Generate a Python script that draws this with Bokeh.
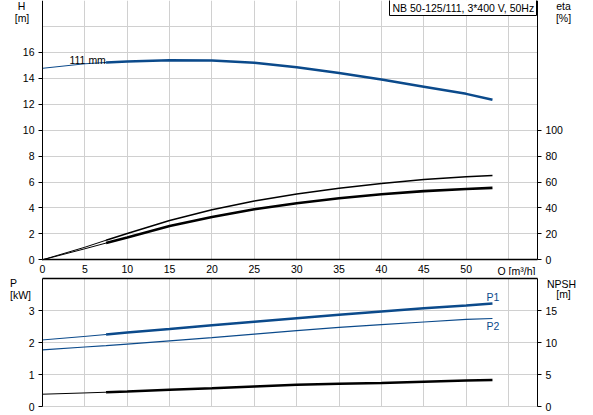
from bokeh.plotting import figure
from bokeh.models import Range1d, LinearAxis, FixedTicker, Label, Grid
from bokeh.layouts import column
from bokeh.embed import file_html
from bokeh.resources import INLINE

# ---------------- data ----------------
q        = [0, 5, 7.5, 10, 15, 20, 25, 30, 35, 40, 45, 50, 53.1]
head     = [14.77, 15.12, 15.22, 15.30, 15.40, 15.37, 15.20, 14.85, 14.40, 13.90, 13.35, 12.80, 12.35]
eta_pump = [0, 9.7, 15.1, 20.3, 30.3, 38.6, 45.3, 50.8, 55.2, 58.8, 61.9, 64.0, 65.0]
eta_tot  = [0, 8.5, 12.9, 17.2, 26.0, 33.0, 39.0, 43.6, 47.5, 50.6, 53.0, 54.6, 55.5]
p1       = [2.08, 2.19, 2.25, 2.31, 2.42, 2.54, 2.65, 2.76, 2.87, 2.97, 3.07, 3.16, 3.22]
p2       = [1.77, 1.86, 1.90, 1.95, 2.05, 2.15, 2.26, 2.37, 2.47, 2.56, 2.64, 2.72, 2.75]
npsh     = [1.92, 2.12, 2.23, 2.34, 2.60, 2.85, 3.12, 3.38, 3.54, 3.69, 3.87, 4.05, 4.15]
split    = 2  # operating range (thick line) starts at q[2]

title_text = "NB 50-125/111, 3*400 V, 50Hz"
curve_text = "111 mm"
q_ticks    = [0, 5, 10, 15, 20, 25, 30, 35, 40, 45, 50]
q_grid     = [5, 10, 15, 20, 25, 30, 35, 40, 45, 50, 55]
h_ticks    = [0, 2, 4, 6, 8, 10, 12, 14, 16]
h_grid     = [2, 4, 6, 8, 10, 12, 14, 16, 18, 20]
eta_ticks  = [0, 20, 40, 60, 80, 100]
p_ticks    = [0, 1, 2, 3]
p_grid     = [0, 1, 2, 3]
npsh_ticks = [0, 5, 10, 15]

Q_MAX, H_MAX, ETA_MAX, P_MAX, NPSH_MAX = 58.4, 20, 200, 4, 20

FONT = "Liberation Sans"
FS = "10.5px"
BLUE = "#0b4a8b"
GRIDC = "#d0d0d0"
W = 585
HAS_CROSS = "cross_bounds" in Grid.properties()


def style_axis(ax, tick_out=4, standoff=4):
    ax.major_tick_out = tick_out
    ax.major_tick_in = 0
    ax.minor_tick_out = 0
    ax.minor_tick_in = 0
    ax.major_label_standoff = standoff
    ax.major_label_text_font = FONT
    ax.major_label_text_font_size = FS
    ax.major_label_text_color = "black"
    ax.axis_line_color = "black"
    ax.major_tick_line_color = "black"


def lab(p, x, y, text, align="center", color="black", y_range_name="default"):
    p.add_layout(Label(x=x, y=y, text=text, text_align=align, text_baseline="middle",
                       text_font=FONT, text_font_size=FS, text_color=color,
                       y_range_name=y_range_name))


def grids(p, xticks, yticks, ytop):
    gx = Grid(dimension=0, ticker=FixedTicker(ticks=xticks), grid_line_color=GRIDC, grid_line_width=1)
    gy = Grid(dimension=1, ticker=FixedTicker(ticks=yticks), grid_line_color=GRIDC, grid_line_width=1)
    if HAS_CROSS:
        gx.cross_bounds = (0, ytop)
        gy.cross_bounds = (0, Q_MAX)
    p.add_layout(gx, "center")
    p.add_layout(gy, "center")


# pixel mapping (frame covers whole canvas)
PX_Q = 8.474          # px per m3/h, Q=0 at x=42
X0 = 42
x_range = Range1d(-X0 / PX_Q, (W - X0) / PX_Q)

# ---------------- top figure: H and eta ----------------
TH = 275
PX_H = 12.965         # px per m, H=0 at y=259.3
HY0 = 259.3
top = figure(width=W, height=TH, x_range=x_range,
             y_range=Range1d(-(TH - HY0) / PX_H, HY0 / PX_H),
             output_backend="svg", toolbar_location=None,
             x_axis_location=None, y_axis_location=None,
             min_border=0, min_border_left=0, min_border_right=0,
             min_border_top=0, min_border_bottom=0)
top.extra_y_ranges = {"eta": Range1d(-(TH - HY0) / PX_H * 10, HY0 / PX_H * 10)}
top.outline_line_color = None
top.grid.visible = False
grids(top, q_grid, h_grid, H_MAX)

xb = LinearAxis(ticker=FixedTicker(ticks=q_ticks), fixed_location=0, bounds=(0, Q_MAX))
style_axis(xb, tick_out=0, standoff=5)
xb.axis_line_width = 1.5
top.add_layout(xb, "below")
yl = LinearAxis(ticker=FixedTicker(ticks=h_ticks), fixed_location=0, bounds=(0, H_MAX))
style_axis(yl)
top.add_layout(yl, "left")
yr = LinearAxis(y_range_name="eta", ticker=FixedTicker(ticks=eta_ticks),
                fixed_location=Q_MAX, bounds=(0, ETA_MAX))
style_axis(yr)
top.add_layout(yr, "right")

if not HAS_CROSS:
    for l, r in ((-10, 0), (Q_MAX, 80)):
        top.quad(left=[l], right=[r], bottom=[-5], top=[25], fill_color="white", line_color=None)
    top.quad(left=[-10], right=[80], bottom=[-5], top=[0], fill_color="white", line_color=None)

# curves
top.line(q[:split + 1], head[:split + 1], line_color=BLUE, line_width=1)
top.line(q[split:], head[split:], line_color=BLUE, line_width=2.5)
top.line(q[:split + 1], eta_pump[:split + 1], line_color="black", line_width=1, y_range_name="eta")
top.line(q[split:], eta_pump[split:], line_color="black", line_width=1.6, y_range_name="eta")
top.line(q[:split + 1], eta_tot[:split + 1], line_color="black", line_width=1, y_range_name="eta")
top.line(q[split:], eta_tot[split:], line_color="black", line_width=2.6, y_range_name="eta")

# title box
top.quad(left=[(389 - X0) / PX_Q], right=[(536 - X0) / PX_Q],
         bottom=[(HY0 - 15) / PX_H], top=[(HY0 + 2) / PX_H],
         fill_color="white", line_color="black", line_width=1)
lab(top, (392 - X0) / PX_Q, (HY0 - 7.5) / PX_H, title_text, align="left")

lab(top, (69 - X0) / PX_Q, (HY0 - 59) / PX_H, curve_text, align="left")
lab(top, (21 - X0) / PX_Q, (HY0 - 5) / PX_H, "H")
lab(top, (21.5 - X0) / PX_Q, (HY0 - 17) / PX_H, "[m]")
lab(top, (563 - X0) / PX_Q, (HY0 - 5) / PX_H, "eta")
lab(top, (563 - X0) / PX_Q, (HY0 - 17) / PX_H, "[%]")
lab(top, (497 - X0) / PX_Q, (HY0 - 270) / PX_H, "Q [m³/h]", align="left")

# ---------------- bottom figure: P and NPSH ----------------
BH = 140
PX_P = 32.0           # px per kW, P=0 at y=131 (canvas of bottom figure)
PY0 = 131
bot = figure(width=W, height=BH, x_range=x_range,
             y_range=Range1d(-(BH - PY0) / PX_P, PY0 / PX_P),
             output_backend="svg", toolbar_location=None,
             x_axis_location=None, y_axis_location=None,
             min_border=0, min_border_left=0, min_border_right=0,
             min_border_top=0, min_border_bottom=0)
bot.extra_y_ranges = {"npsh": Range1d(-(BH - PY0) / PX_P * 5, PY0 / PX_P * 5)}
bot.outline_line_color = None
bot.grid.visible = False
grids(bot, q_grid, p_grid, P_MAX)

bl = LinearAxis(ticker=FixedTicker(ticks=p_ticks), fixed_location=0, bounds=(0, P_MAX))
style_axis(bl)
bot.add_layout(bl, "left")
br = LinearAxis(y_range_name="npsh", ticker=FixedTicker(ticks=npsh_ticks),
                fixed_location=Q_MAX, bounds=(0, NPSH_MAX))
style_axis(br)
bot.add_layout(br, "right")
bt = LinearAxis(ticker=FixedTicker(ticks=[]), fixed_location=P_MAX, bounds=(0, Q_MAX))
style_axis(bt, tick_out=0)
bt.axis_line_width = 1.5
bot.add_layout(bt, "above")

if not HAS_CROSS:
    for l, r in ((-10, 0), (Q_MAX, 80)):
        bot.quad(left=[l], right=[r], bottom=[-5], top=[25], fill_color="white", line_color=None)
    bot.quad(left=[-10], right=[80], bottom=[P_MAX], top=[10], fill_color="white", line_color=None)

bot.line(q[:split + 1], p1[:split + 1], line_color=BLUE, line_width=1)
bot.line(q[split:], p1[split:], line_color=BLUE, line_width=2.5)
bot.line(q, p2, line_color=BLUE, line_width=1.2)
bot.line(q[:split + 1], npsh[:split + 1], line_color="black", line_width=1, y_range_name="npsh")
bot.line(q[split:], npsh[split:], line_color="black", line_width=2.5, y_range_name="npsh")

lab(bot, (486 - X0) / PX_Q, (PY0 - (296.5 - 275)) / PX_P, "P1", align="left", color=BLUE)
lab(bot, (486 - X0) / PX_Q, (PY0 - (325 - 275)) / PX_P, "P2", align="left", color=BLUE)
lab(bot, (13 - X0) / PX_Q, (PY0 - 7) / PX_P, "P")
lab(bot, (20 - X0) / PX_Q, (PY0 - 19) / PX_P, "[kW]")
lab(bot, (561 - X0) / PX_Q, (PY0 - 8) / PX_P, "NPSH")
lab(bot, (563 - X0) / PX_Q, (PY0 - 18) / PX_P, "[m]")

layout = column(top, bot, spacing=0)

open("out.html", "w").write(file_html(layout, INLINE))
